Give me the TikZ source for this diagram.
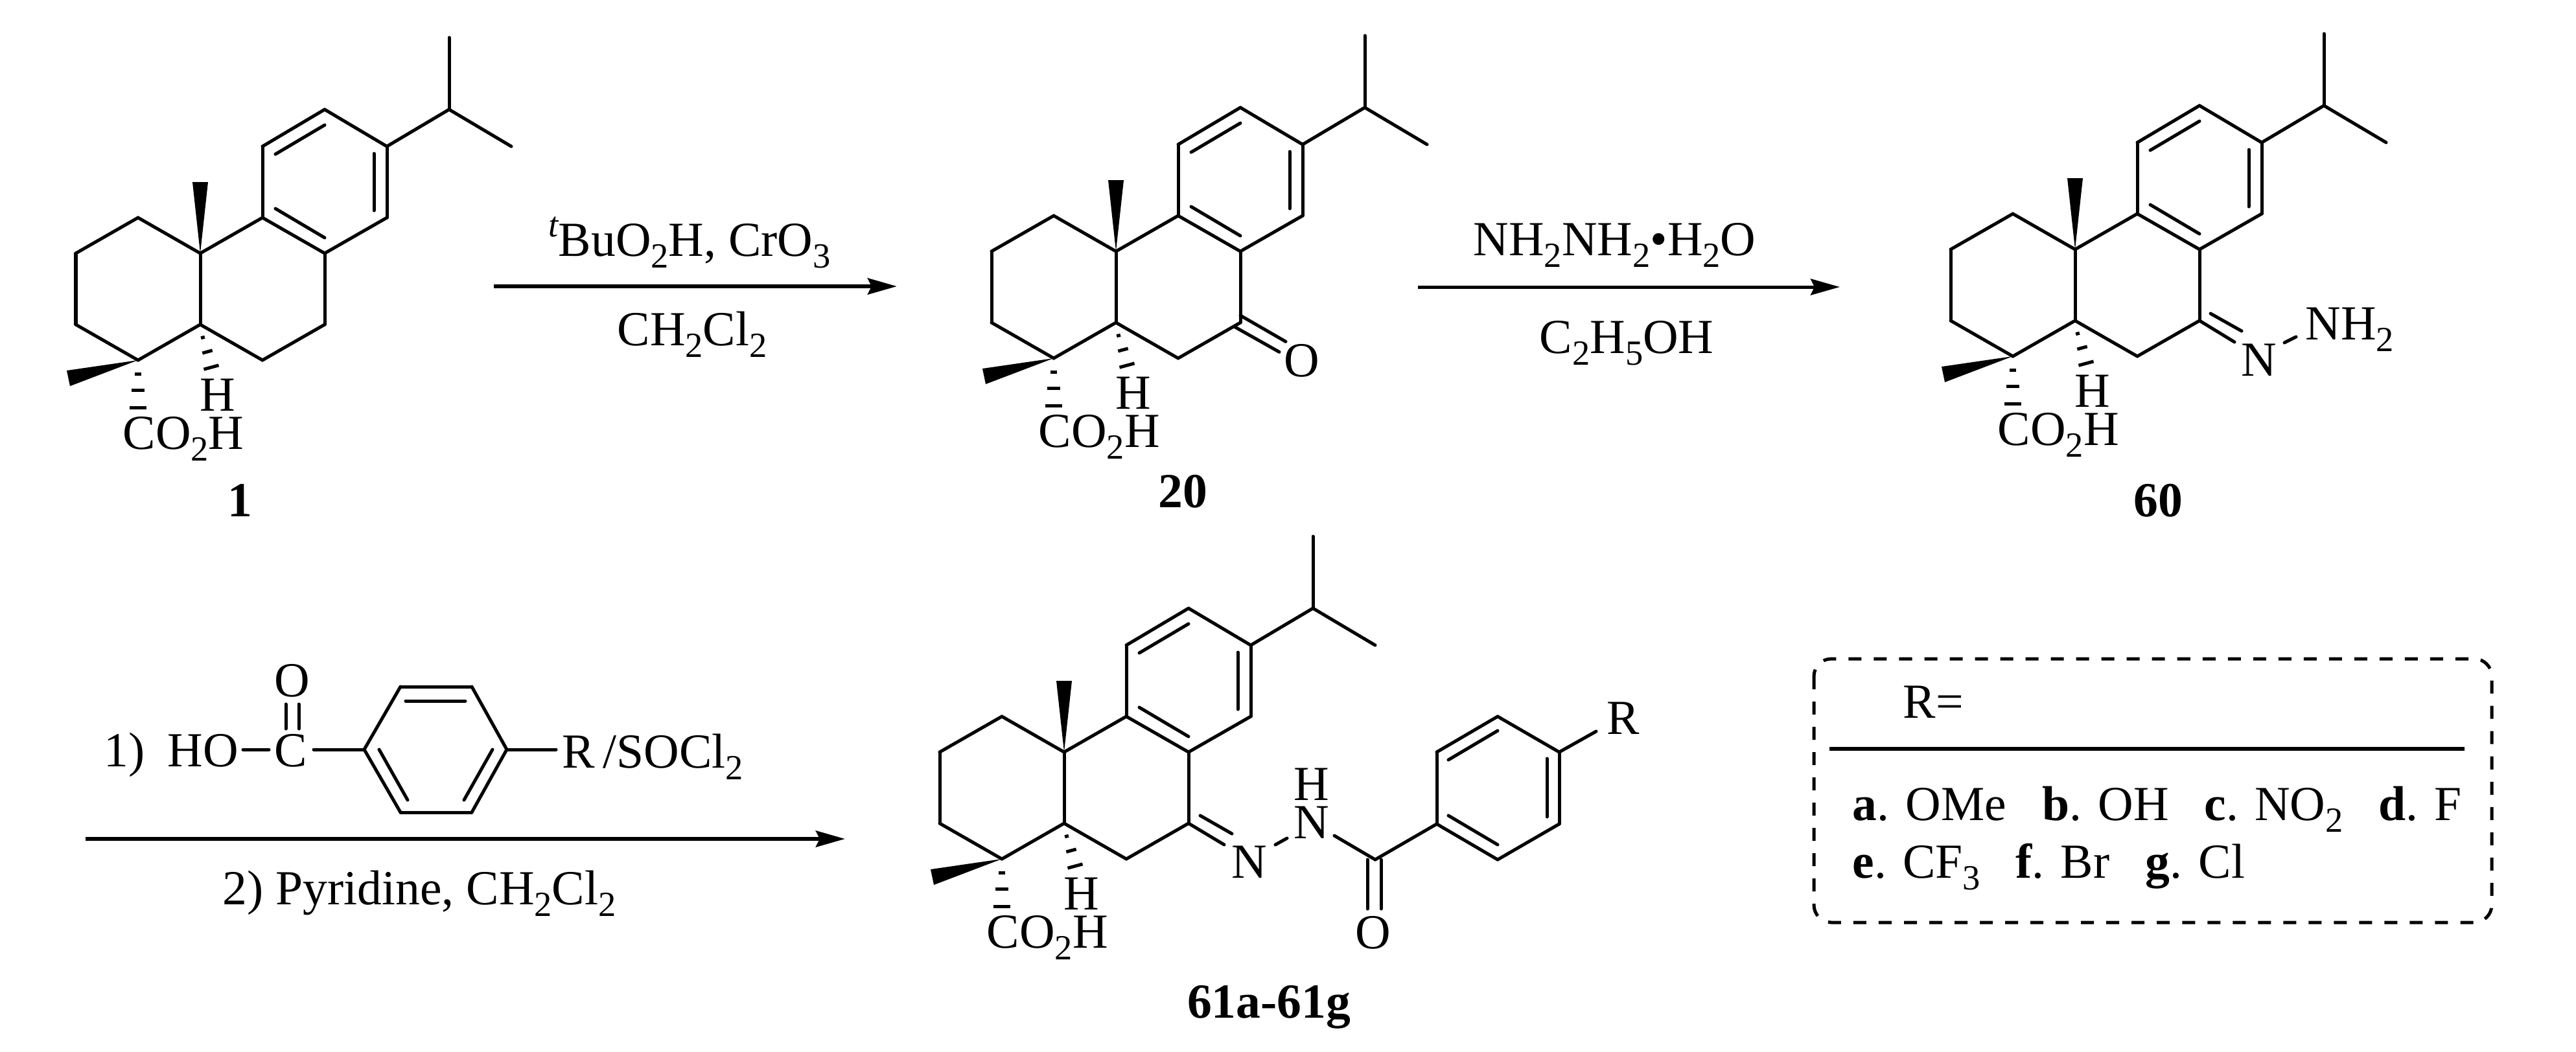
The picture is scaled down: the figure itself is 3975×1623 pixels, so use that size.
\documentclass[tikz,border=0pt]{standalone}
\usepackage{fontspec}
\setmainfont{Liberation Serif}
\usetikzlibrary{arrows.meta,calc}
\newcommand{\chemfont}{\fontsize{21.5}{26}\selectfont}
\newcommand{\dn}[1]{\raisebox{-5.2pt}{\fontsize{15.5}{18}\selectfont #1}}
\tikzset{
  bond/.style={line width=0.05cm,line cap=round},
  hashbond/.style={line width=0.05cm},
  wedgebond/.style={fill=black,draw=none},
  rxn/.style={line width=0.06cm,-{Stealth[length=0.45cm,width=0.25cm,inset=0.06cm]}},
  lab/.style={inner sep=0pt,anchor=base west,font=\chemfont},
  cen/.style={lab,anchor=base},
  num/.style={cen,font=\chemfont\bfseries}
}
\newcommand{\skeleton}[3]{
  \begin{scope}[shift={(#2,#3)}]
    \foreach \n/\px/\py in {q/0/0,j/0/110,a/-96/-55,b/-192/0,c/-192/110,d/-96/165,
      e/96/165,f/192/110,g/192/0,h/96/-55,i/96/-165,k/192/-222,l/288/-165,m/288/-55,
      n/384/-222,o/384/-333,p/480/-165}
      \coordinate (#1\n) at (\px,\py);
    \foreach \s/\t in {q/j,q/a,a/b,b/c,c/d,d/j,j/e,e/f,f/g,g/h,h/q,h/i,i/k,k/l,l/m,m/g,l/n,n/o,n/p}
      \draw[bond] (#1\s) to (#1\t);
    \draw[bond] ($(#1i)+(20,12)$) to ($(#1k)+(0,24)$);
    \draw[bond] ($(#1l)+(-20,11)$) to ($(#1m)+(-20,-11)$);
    \draw[bond] ($(#1h)+(20,-14)$) to ($(#1g)+(0,-24)$);
    \fill[wedgebond] (#1q) -- ($(#1q)+(-12,-110)$) -- ($(#1q)+(12,-110)$) -- cycle;
    \fill[wedgebond] (#1d) -- ($(#1d)+(-110,16)$) -- ($(#1d)+(-105,40)$) -- cycle;
    \foreach \yy/\w in {21/5,46/10,73/13}
      \draw[hashbond] ($(#1d)+(-\w,\yy)$) to ($(#1d)+(\w,\yy)$);
    \foreach \xx/\yy/\w in {4/20/3,11/42/8,17/66/12}
      \draw[hashbond] ($(#1j)+({\xx-.96*\w},{\yy+.26*\w})$) to ($(#1j)+({\xx+.96*\w},{\yy-.26*\w})$);
    \node[cen] (#1H) at (27,243) {H};
    \node[lab] (#1acid) at (-120,302) {CO\dn{2}H};
  \end{scope}
}
\begin{document}
\begin{tikzpicture}[x=0.01cm,y=-0.01cm]
  \useasboundingbox (0,0) rectangle (3975,1623);
  \skeleton{one}{309}{391}
  \skeleton{two}{1722}{388}
  \skeleton{six}{3202}{385}
  \skeleton{hyd}{1642}{1161}
  \node[num] (lone) at (370,797) {1};
  \node[num] (ltwo) at (1825,783) {20};
  \node[num] (lsix) at (3330,797) {60};
  \node[num] (lhyd) at (1958,1571) {61a-61g};

  % ketone
  \node[cen] (twoO) at (2009,581) {O};
  \draw[bond] ($(twof)+(0,-11)$) to ($(twoO)+(-25,-29)$);
  \draw[bond] ($(twof)+(-8,7)$) to ($(twoO)+(-35,-13)$);

  % hydrazone
  \node[cen] (sixN) at (3486,580) {N};
  \node[lab] (sixNH) at (3557,524) {NH\dn{2}};
  \draw[bond] (sixf) to (3448,528);
  \draw[bond] (3411,484) to (3459,511);
  \draw[bond] (3525,529) to (3543,520);

  % acyl hydrazone
  \node[cen] (hydN) at (1928,1355) {N};
  \node[cen] (hydNH) at (2024,1294) {N};
  \node[cen] (hydH) at (2024,1235) {H};
  \node[cen] (hydO) at (2119,1464) {O};
  \node[lab] (hydR) at (2479,1133) {R};
  \draw[bond] (hydf) to (1889,1304);
  \draw[bond] (1852,1259) to (1901,1287);
  \draw[bond] (1968,1304) to (1986,1294);
  \coordinate (co) at (2122,1327);
  \coordinate (r1) at (2217,1272);
  \coordinate (r2) at (2217,1161);
  \coordinate (r3) at (2311,1106);
  \coordinate (r4) at (2406,1161);
  \coordinate (r5) at (2406,1272);
  \coordinate (r6) at (2311,1327);
  \draw[bond] (2059,1290) to (co);
  \draw[bond] (co) to (r1);
  \draw[bond] (r1) to (r2);
  \draw[bond] (r2) to (r3);
  \draw[bond] (r3) to (r4);
  \draw[bond] (r4) to (r5);
  \draw[bond] (r5) to (r6);
  \draw[bond] (r6) to (r1);
  \draw[bond] (r4) to (2463,1129);
  \draw[bond] (2235,1173) to (2311,1128);
  \draw[bond] (2387,1171) to (2387,1261);
  \draw[bond] (2235,1259) to (2311,1304);
  \draw[bond] (2110,1327) to (2110,1403);
  \draw[bond] (2131,1327) to (2131,1403);

  % first arrow
  \coordinate (ua) at (762,442);
  \coordinate (ub) at (1384,442);
  \draw[rxn] (ua) -- (ub);
  \node[lab] (tbu) at (846,395) {\raisebox{8.5pt}{\fontsize{15.5}{18}\selectfont\itshape t}BuO\dn{2}H, CrO\dn{3}};
  \node[lab] (dcm) at (952,533) {CH\dn{2}Cl\dn{2}};

  % second arrow
  \coordinate (va) at (2188,443);
  \coordinate (vb) at (2839,443);
  \draw[rxn,line width=0.05cm] (va) -- (vb);
  \node[lab] (hz) at (2273,394) {NH\dn{2}NH\dn{2}•H\dn{2}O};
  \node[lab] (etoh) at (2375,545) {C\dn{2}H\dn{5}OH};

  % third arrow
  \coordinate (wa) at (132,1295);
  \coordinate (wb) at (1304,1295);
  \draw[rxn] (wa) -- (wb);
  \node[lab] (stepa) at (160,1183) {1)};
  \node[lab] (ho) at (258,1183) {HO};
  \node[cen] (cc) at (449,1183) {C};
  \node[cen] (ccO) at (451,1075) {O};
  \node[lab] (rsocl) at (867,1185) {R\,/SOCl\dn{2}};
  \node[lab] (stepb) at (343,1396) {2) Pyridine, CH\dn{2}Cl\dn{2}};
  \coordinate (s1) at (562,1157);
  \coordinate (s2) at (618,1060);
  \coordinate (s3) at (728,1060);
  \coordinate (s4) at (782,1157);
  \coordinate (s5) at (728,1254);
  \coordinate (s6) at (618,1254);
  \draw[bond] (375,1157) to (415,1157);
  \draw[bond] (484,1157) to (s1);
  \draw[bond] (s1) to (s2);
  \draw[bond] (s2) to (s3);
  \draw[bond] (s3) to (s4);
  \draw[bond] (s4) to (s5);
  \draw[bond] (s5) to (s6);
  \draw[bond] (s6) to (s1);
  \draw[bond] (s4) to (858,1157);
  \draw[bond] (626,1082) to (718,1082);
  \draw[bond] (585,1157) to (629,1235);
  \draw[bond] (760,1157) to (716,1235);
  \draw[bond] (441,1087) to (441,1125);
  \draw[bond] (461,1087) to (461,1125);

  % substituents
  \draw[line width=0.05cm,rounded corners=0.27cm,dash pattern=on 0.2cm off 0.19cm] (2799,1017) rectangle (3845,1424);
  \draw[line width=0.06cm] (2823,1156) to (3803,1156);
  \node[lab] (req) at (2936,1108) {R=};
  \node[lab] (ra) at (2858,1266) {\textbf{a}. OMe};
  \node[lab] (rb) at (3151,1266) {\textbf{b}. OH};
  \node[lab] (rc) at (3401,1266) {\textbf{c}. NO\dn{2}};
  \node[lab] (rd) at (3670,1266) {\textbf{d}. F};
  \node[lab] (re) at (2858,1355) {\textbf{e}. CF\dn{3}};
  \node[lab] (rf) at (3110,1355) {\textbf{f}. Br};
  \node[lab] (rg) at (3310,1355) {\textbf{g}. Cl};
\end{tikzpicture}
\end{document}
